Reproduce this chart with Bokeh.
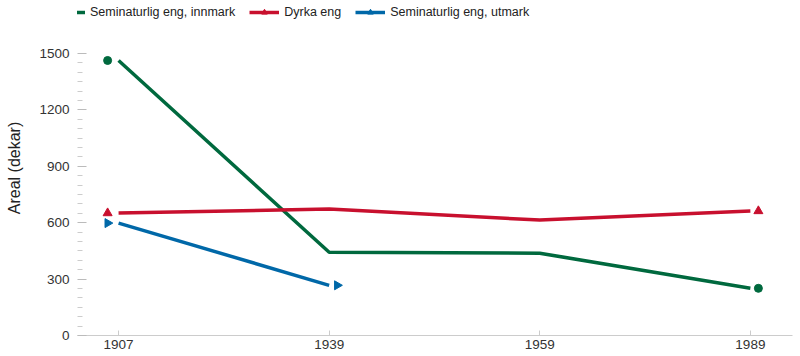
import math
from bokeh.plotting import figure
from bokeh.models import Range1d, FixedTicker, Legend, LegendItem
from bokeh.embed import file_html
from bokeh.resources import INLINE

years = ["1907", "1939", "1959", "1989"]
innmark = [1463, 443, 438, 251]
dyrka = [651, 673, 614, 662]
utmark = [598, 267]
labels = ["Seminaturlig eng, innmark", "Dyrka eng", "Seminaturlig eng, utmark"]
colors = ["#00693e", "#c8102e", "#0068a8"]
markers = ["circle", "triangle", "triangle"]
angles = [0, 0, -math.pi / 2]
marker_sizes = [8, 9, 9]

FONT = "Liberation Sans"

p = figure(width=800, height=356, output_backend="svg", toolbar_location=None,
           x_range=Range1d(-0.195, 3.2), y_range=Range1d(0, 1782),
           min_border_left=77, min_border_right=8, min_border_top=0, min_border_bottom=21)
p.outline_line_color = None
p.xgrid.grid_line_color = None
p.ygrid.grid_line_color = None

items = []
for vals, lab, col, mk, ang, ms in zip([innmark, dyrka, utmark], labels, colors, markers, angles, marker_sizes):
    xs = list(range(len(vals)))
    r_line = p.line(xs, vals, line_color=col, line_width=3.5, line_join="round", line_cap="butt")
    mx = [xs[0] - 0.052, xs[-1] + 0.038]
    my = [vals[0], vals[-1]]
    r_m = p.scatter(mx, my, marker=mk, size=ms, angle=ang, fill_color=col, line_color=col)
    items.append(LegendItem(label=lab, renderers=[r_line, r_m]))

legend = Legend(items=items, orientation="horizontal", location=(-22, 316),
                label_text_font=FONT, label_text_font_size="12.5px", label_text_color="#222",
                glyph_width=30, glyph_height=14, label_standoff=5, spacing=14,
                padding=0, margin=0, border_line_color=None, background_fill_alpha=0)
p.add_layout(legend, "center")

xa = p.xaxis[0]
xa.ticker = FixedTicker(ticks=list(range(len(years))))
xa.major_label_overrides = {i: y for i, y in enumerate(years)}
xa.axis_line_color = "#cccccc"
xa.major_tick_line_color = "#cccccc"
xa.major_tick_in = 5
xa.major_tick_out = 0
xa.minor_tick_line_color = None
xa.major_label_standoff = 4
xa.major_label_text_font = FONT
xa.major_label_text_font_size = "13.5px"
xa.major_label_text_color = "#333333"

ya = p.yaxis[0]
ya.ticker = FixedTicker(ticks=[0, 300, 600, 900, 1200, 1500],
                        minor_ticks=[i * 50 for i in range(1, 31) if i % 6])
ya.axis_line_color = None
ya.major_tick_line_color = "#bbbbbb"
ya.major_tick_in = 9
ya.major_tick_out = 0
ya.minor_tick_line_color = "#cccccc"
ya.minor_tick_in = 5
ya.minor_tick_out = 0
ya.major_label_standoff = 8
ya.major_label_text_font = FONT
ya.major_label_text_font_size = "13.5px"
ya.major_label_text_color = "#333333"
ya.axis_label = "Areal (dekar)"
ya.axis_label_text_font = FONT
ya.axis_label_text_font_size = "16px"
ya.axis_label_text_font_style = "normal"
ya.axis_label_text_color = "#222222"
ya.axis_label_standoff = 13

open("out.html", "w").write(file_html(p, INLINE))
